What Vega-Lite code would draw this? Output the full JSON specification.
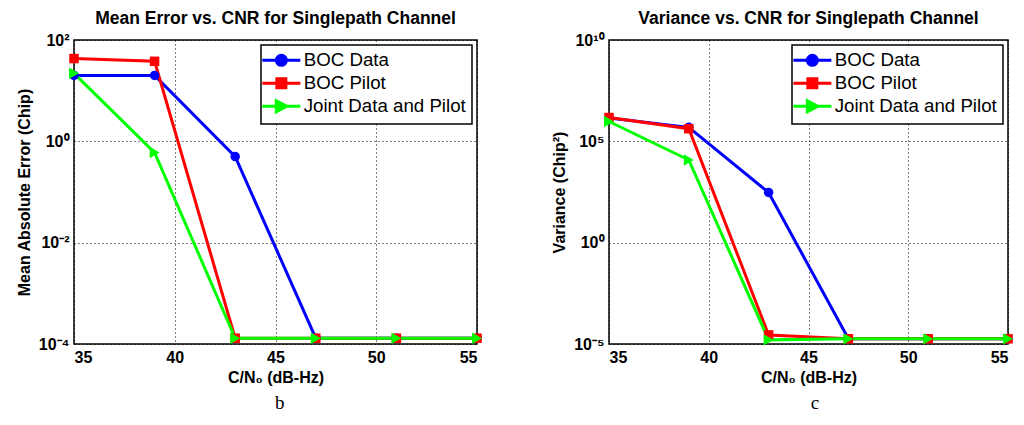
{
  "$schema": "https://vega.github.io/schema/vega-lite/v6.json",
  "background": "white",
  "padding": {"left": 15, "top": 8, "right": 5, "bottom": 5},
  "spacing": 66,
  "resolve": {"scale": {"color": "independent", "x": "independent", "y": "independent"}, "legend": {"color": "independent"}},
  "datasets": {
    "mean": [
      {"cnr": 35, "series": "BOC Data", "v": 20},
      {"cnr": 39, "series": "BOC Data", "v": 20},
      {"cnr": 43, "series": "BOC Data", "v": 0.5},
      {"cnr": 47, "series": "BOC Data", "v": 0.00013},
      {"cnr": 51, "series": "BOC Data", "v": 0.00013},
      {"cnr": 55, "series": "BOC Data", "v": 0.00013},
      {"cnr": 35, "series": "BOC Pilot", "v": 43},
      {"cnr": 39, "series": "BOC Pilot", "v": 38},
      {"cnr": 43, "series": "BOC Pilot", "v": 0.00013},
      {"cnr": 47, "series": "BOC Pilot", "v": 0.00013},
      {"cnr": 51, "series": "BOC Pilot", "v": 0.00013},
      {"cnr": 55, "series": "BOC Pilot", "v": 0.00013},
      {"cnr": 35, "series": "Joint Data and Pilot", "v": 22},
      {"cnr": 39, "series": "Joint Data and Pilot", "v": 0.6},
      {"cnr": 43, "series": "Joint Data and Pilot", "v": 0.00013},
      {"cnr": 47, "series": "Joint Data and Pilot", "v": 0.00013},
      {"cnr": 51, "series": "Joint Data and Pilot", "v": 0.00013},
      {"cnr": 55, "series": "Joint Data and Pilot", "v": 0.00013}
    ],
    "variance": [
      {"cnr": 35, "series": "BOC Data", "v": 1400000},
      {"cnr": 39, "series": "BOC Data", "v": 490000},
      {"cnr": 43, "series": "BOC Data", "v": 300},
      {"cnr": 47, "series": "BOC Data", "v": 0.000018},
      {"cnr": 51, "series": "BOC Data", "v": 0.000018},
      {"cnr": 55, "series": "BOC Data", "v": 0.000018},
      {"cnr": 35, "series": "BOC Pilot", "v": 1500000},
      {"cnr": 39, "series": "BOC Pilot", "v": 420000},
      {"cnr": 43, "series": "BOC Pilot", "v": 0.000028},
      {"cnr": 47, "series": "BOC Pilot", "v": 0.000018},
      {"cnr": 51, "series": "BOC Pilot", "v": 0.000018},
      {"cnr": 55, "series": "BOC Pilot", "v": 0.000018},
      {"cnr": 35, "series": "Joint Data and Pilot", "v": 950000},
      {"cnr": 39, "series": "Joint Data and Pilot", "v": 12000},
      {"cnr": 43, "series": "Joint Data and Pilot", "v": 0.000016},
      {"cnr": 47, "series": "Joint Data and Pilot", "v": 0.000018},
      {"cnr": 51, "series": "Joint Data and Pilot", "v": 0.000018},
      {"cnr": 55, "series": "Joint Data and Pilot", "v": 0.000018}
    ]
  },
  "config": {
    "font": "Liberation Sans",
    "view": {"stroke": "black", "strokeWidth": 1.5},
    "axis": {
      "labelFont": "Liberation Sans", "labelFontWeight": "bold", "labelFontSize": 16, "labelColor": "black",
      "titleFont": "Liberation Sans", "titleFontWeight": "bold", "titleFontSize": 16, "titleColor": "black",
      "domain": false, "ticks": false, "labelPadding": 5,
      "grid": true, "gridColor": "black", "gridDash": [1, 3], "gridOpacity": 1, "gridWidth": 1
    },
    "legend": {
      "orient": "top-right", "offset": 5, "title": null,
      "labelFont": "Liberation Sans", "labelFontSize": 18.7, "labelColor": "black", "labelLimit": 400,
      "strokeColor": "black", "fillColor": "white", "padding": 6, "strokeWidth": 1.5,
      "symbolSize": 100, "symbolStrokeWidth": 3, "symbolOffset": 5, "labelOffset": 13, "rowPadding": 0
    }
  },
  "hconcat": [
    {
      "title": {"text": "b", "orient": "bottom", "anchor": "middle", "dx": 30, "font": "Liberation Serif", "fontSize": 19, "fontWeight": "normal", "color": "black", "offset": 8},
      "resolve": {"scale": {"color": "independent"}, "legend": {"color": "independent"}},
      "hconcat": [
        {
          "title": {"text": "Mean Error vs. CNR for Singlepath Channel", "frame": "group", "anchor": "middle", "font": "Liberation Sans", "fontSize": 17.5, "fontWeight": "bold", "color": "black", "offset": 5},
          "width": 403, "height": 304,
          "data": {"name": "mean"},
          "encoding": {
            "x": {"field": "cnr", "type": "quantitative", "title": "C/N₀ (dB-Hz)", "scale": {"domain": [35, 55], "nice": false, "zero": false}, "axis": {"values": [35, 40, 45, 50, 55]}},
            "y": {"field": "v", "type": "quantitative", "title": "Mean Absolute Error (Chip)", "scale": {"type": "log", "domain": [0.0001, 100], "nice": false}, "axis": {"values": [0.0001, 0.01, 1, 100], "titlePadding": 6, "labelExpr": "datum.value >= 99 ? '10²' : datum.value >= 0.99 ? '10⁰' : datum.value >= 0.0099 ? '10⁻²' : '10⁻⁴'"}},
            "color": {"field": "series", "type": "nominal", "scale": {"domain": ["BOC Data", "BOC Pilot", "Joint Data and Pilot"], "range": ["#0000ff", "#ff0000", "#00ff00"]},
              "legend": {"encode": {"symbols": {"update": {
                "shape": {"signal": "datum.value == 'BOC Data' ? 'M-3.8,0H3.8M1,0A1,1 0 1 1 -1,0A1,1 0 1 1 1,0Z' : datum.value == 'BOC Pilot' ? 'M-3.8,0H3.8M-0.9,-0.9H0.9V0.9H-0.9Z' : 'M-3.8,0H3.8M-1,-1.1L1.1,0L-1,1.1Z'"},
                "size": {"value": 100},
                "fill": {"signal": "datum.value == 'BOC Data' ? '#0000ff' : datum.value == 'BOC Pilot' ? '#ff0000' : '#00ff00'"},
                "stroke": {"signal": "datum.value == 'BOC Data' ? '#0000ff' : datum.value == 'BOC Pilot' ? '#ff0000' : '#00ff00'"},
                "strokeWidth": {"value": 3}, "opacity": {"value": 1}, "fillOpacity": {"value": 1}, "strokeOpacity": {"value": 1}
              }}}}}
          },
          "layer": [
            {"mark": {"type": "line", "strokeWidth": 3}},
            {"transform": [{"filter": "datum.series == 'BOC Data'"}], "mark": {"type": "point", "shape": "circle", "filled": true, "size": 90, "opacity": 1}},
            {"transform": [{"filter": "datum.series == 'BOC Pilot'"}], "mark": {"type": "point", "shape": "square", "filled": true, "size": 90, "opacity": 1}},
            {"transform": [{"filter": "datum.series == 'Joint Data and Pilot'"}], "mark": {"type": "point", "shape": "triangle-right", "filled": true, "size": 130, "opacity": 1}}
          ]
        }
      ]
    },
    {
      "title": {"text": "c", "orient": "bottom", "anchor": "middle", "dx": 32, "font": "Liberation Serif", "fontSize": 19, "fontWeight": "normal", "color": "black", "offset": 8},
      "resolve": {"scale": {"color": "independent"}, "legend": {"color": "independent"}},
      "hconcat": [
        {
          "title": {"text": "Variance vs. CNR for Singlepath Channel", "frame": "group", "anchor": "middle", "font": "Liberation Sans", "fontSize": 17.5, "fontWeight": "bold", "color": "black", "offset": 5},
          "width": 399, "height": 304,
          "data": {"name": "variance"},
          "encoding": {
            "x": {"field": "cnr", "type": "quantitative", "title": "C/N₀ (dB-Hz)", "scale": {"domain": [35, 55], "nice": false, "zero": false}, "axis": {"values": [35, 40, 45, 50, 55]}},
            "y": {"field": "v", "type": "quantitative", "title": "Variance (Chip²)", "scale": {"type": "log", "domain": [0.00001, 10000000000], "nice": false}, "axis": {"values": [0.00001, 1, 100000, 10000000000], "titlePadding": 6, "labelExpr": "datum.value >= 1e9 ? '10¹⁰' : datum.value >= 1e4 ? '10⁵' : datum.value >= 0.5 ? '10⁰' : '10⁻⁵'"}},
            "color": {"field": "series", "type": "nominal", "scale": {"domain": ["BOC Data", "BOC Pilot", "Joint Data and Pilot"], "range": ["#0000ff", "#ff0000", "#00ff00"]},
              "legend": {"encode": {"symbols": {"update": {
                "shape": {"signal": "datum.value == 'BOC Data' ? 'M-3.8,0H3.8M1,0A1,1 0 1 1 -1,0A1,1 0 1 1 1,0Z' : datum.value == 'BOC Pilot' ? 'M-3.8,0H3.8M-0.9,-0.9H0.9V0.9H-0.9Z' : 'M-3.8,0H3.8M-1,-1.1L1.1,0L-1,1.1Z'"},
                "size": {"value": 100},
                "fill": {"signal": "datum.value == 'BOC Data' ? '#0000ff' : datum.value == 'BOC Pilot' ? '#ff0000' : '#00ff00'"},
                "stroke": {"signal": "datum.value == 'BOC Data' ? '#0000ff' : datum.value == 'BOC Pilot' ? '#ff0000' : '#00ff00'"},
                "strokeWidth": {"value": 3}, "opacity": {"value": 1}, "fillOpacity": {"value": 1}, "strokeOpacity": {"value": 1}
              }}}}}
          },
          "layer": [
            {"mark": {"type": "line", "strokeWidth": 3}},
            {"transform": [{"filter": "datum.series == 'BOC Data'"}], "mark": {"type": "point", "shape": "circle", "filled": true, "size": 90, "opacity": 1}},
            {"transform": [{"filter": "datum.series == 'BOC Pilot'"}], "mark": {"type": "point", "shape": "square", "filled": true, "size": 90, "opacity": 1}},
            {"transform": [{"filter": "datum.series == 'Joint Data and Pilot'"}], "mark": {"type": "point", "shape": "triangle-right", "filled": true, "size": 130, "opacity": 1}}
          ]
        }
      ]
    }
  ]
}
